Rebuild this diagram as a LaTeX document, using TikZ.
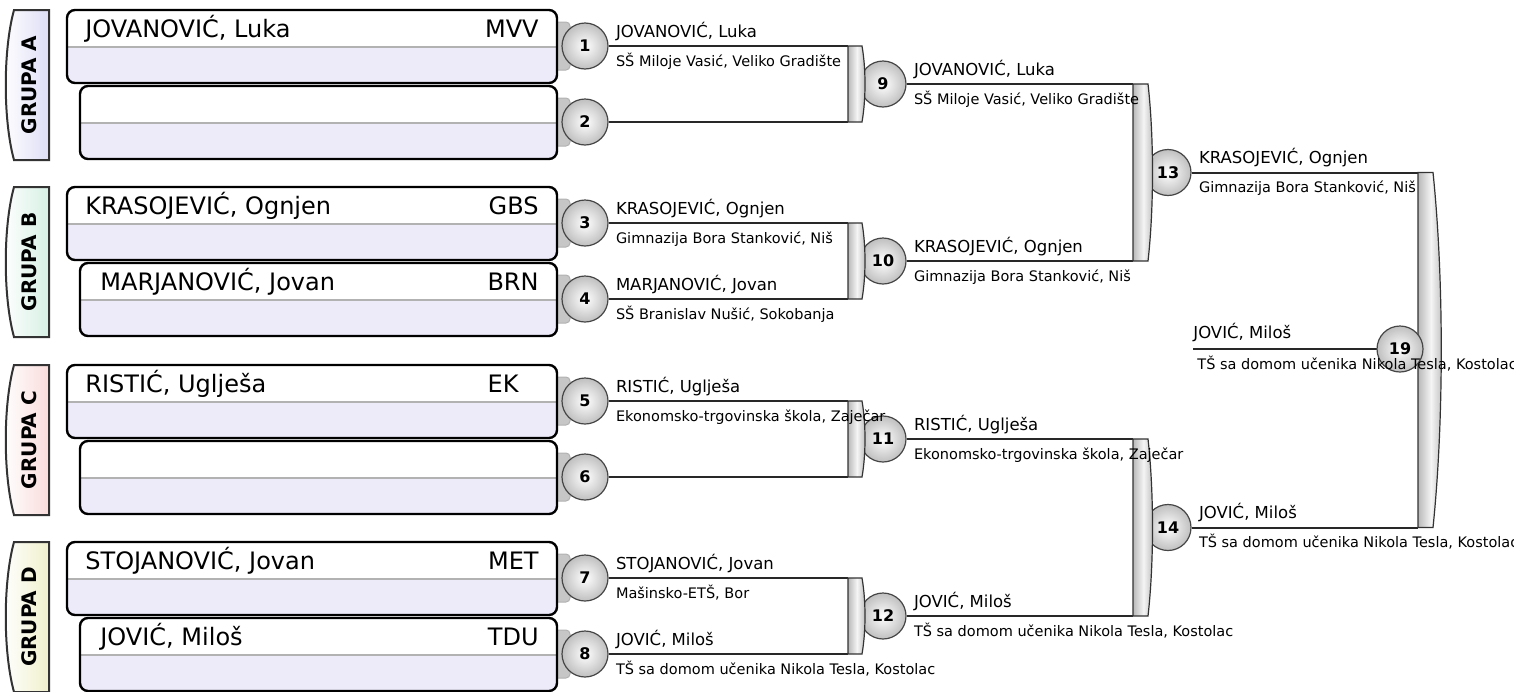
\documentclass[tikz,border=0pt]{standalone}
\usepackage{fontspec}
\setmainfont{DejaVu Sans}
\usetikzlibrary{positioning}
\definecolor{rowlow}{RGB}{237,235,250}
\definecolor{tabA}{RGB}{222,222,246}
\definecolor{tabB}{RGB}{214,240,228}
\definecolor{tabC}{RGB}{250,220,220}
\definecolor{tabD}{RGB}{240,240,204}
\definecolor{wirec}{RGB}{40,40,40}
\begin{document}
\begin{tikzpicture}[x=0.5pt,y=-0.5pt,
  match/.style={circle,draw=gray!55!black,line width=0.6pt,inner color=white,outer color=gray!50,minimum size=23pt,inner sep=0pt,font=\fontsize{8}{8}\selectfont\bfseries},
  pname/.style={font=\fontsize{12}{14}\selectfont,inner sep=0pt},
  wname/.style={font=\fontsize{8.25}{10}\selectfont,inner sep=0pt,anchor=base west,xshift=3.5pt,yshift=4.5pt},
  wschool/.style={font=\fontsize{7.25}{9}\selectfont,inner sep=0pt,anchor=base west,xshift=3.5pt,yshift=-10pt},
  wire/.style={draw=wirec,line width=1pt},
  bar/.style={draw=gray!40!black,line width=0.6pt,left color=gray!55,right color=gray!55,middle color=gray!8},
  stub/.style={draw=gray!60,line width=0.5pt,fill=gray!45},
  grouptab/.style={draw=black!80,line width=1pt},
  ]
\useasboundingbox (0,0) rectangle (1514,691);
\clip (0,0) rectangle (1514,691);

% group tabs
\foreach \t/\c/\g in {10/tabA/A,187/tabB/B,365/tabC/C,542/tabD/D}{
  \draw[grouptab,left color=white,right color=\c] (49,\t) -- (14,\t) .. controls (3,{\t+40}) and (3,{\t+110}) .. (14,{\t+150}) -- (49,{\t+150}) -- cycle;
  \node[rotate=90,font=\fontsize{10}{10}\selectfont\bfseries] (g\g) at (29,{\t+75}) {GRUPA \g};
}

% stubs between boxes and first round
\foreach \y in {46,122,223,299,401,477,578,654}
  \draw[stub,rounded corners=2pt] (553,{\y-24}) rectangle (570,{\y+24});

% player boxes
\foreach \xa/\ya in {67/10,80/86,67/187,80/263,67/365,80/441,67/542,80/618}{
  \fill[rowlow,rounded corners=4pt] (\xa,\ya) rectangle (557,{\ya+73});
  \fill[white,rounded corners=4pt] (\xa,\ya) rectangle (557,{\ya+37});
  \fill[white] ({\xa+1},{\ya+20}) rectangle (556,{\ya+37});
  \draw[gray!60,line width=0.6pt] (\xa,{\ya+37}) -- (557,{\ya+37});
  \draw[line width=1.2pt,rounded corners=4pt] (\xa,\ya) rectangle (557,{\ya+73});
}

\node[pname,anchor=west] (s1) at (85,29) {JOVANOVIĆ, Luka};
\node[pname,anchor=east] (c1) at (539,29) {MVV};
\node[pname,anchor=west] (s3) at (85,206) {KRASOJEVIĆ, Ognjen};
\node[pname,anchor=east] (c3) at (539,206) {GBS};
\node[pname,anchor=west] (s4) at (100,282) {MARJANOVIĆ, Jovan};
\node[pname,anchor=east] (c4) at (539,282) {BRN};
\node[pname,anchor=west] (s5) at (85,384) {RISTIĆ, Uglješa};
\node[pname,anchor=east] (c5) at (519,384) {EK};
\node[pname,anchor=west] (s7) at (85,561) {STOJANOVIĆ, Jovan};
\node[pname,anchor=east] (c7) at (539,561) {MET};
\node[pname,anchor=west] (s8) at (100,637) {JOVIĆ, Miloš};
\node[pname,anchor=east] (c8) at (539,637) {TDU};

% matches
\node[match] (m1) at (585,46) {1};
\node[match] (m2) at (585,122) {2};
\node[match] (m3) at (585,223) {3};
\node[match] (m4) at (585,299) {4};
\node[match] (m5) at (585,401) {5};
\node[match] (m6) at (585,477) {6};
\node[match] (m7) at (585,578) {7};
\node[match] (m8) at (585,654) {8};
\node[match] (m9) at (883,84) {9};
\node[match] (m10) at (883,261) {10};
\node[match] (m11) at (883,439) {11};
\node[match] (m12) at (883,616) {12};
\node[match] (m13) at (1168,172.5) {13};
\node[match] (m14) at (1168,527.5) {14};
\coordinate (f19) at (1193,349);

% bracket joins
\foreach \n/\xl/\yt/\yb/\w/\bu in {1/848/46/122/14/4,2/848/223/299/14/4,3/848/401/477/14/4,4/848/578/654/14/4,5/1133/84/261/15/6,6/1133/439/616/15/6,7/1418/172.5/527.5/15/11}{
  \coordinate (jt\n) at (\xl,\yt);
  \coordinate (jb\n) at (\xl,\yb);
}
\foreach \u/\v in {m1/jt1,m2/jb1,m3/jt2,m4/jb2,m5/jt3,m6/jb3,m7/jt4,m8/jb4,m9/jt5,m10/jb5,m11/jt6,m12/jb6,m13/jt7,m14/jb7}
  \draw[wire] (\u.east) -- (\v);
\foreach \xl/\yt/\yb/\w/\bu in {848/46/122/14/4,848/223/299/14/4,848/401/477/14/4,848/578/654/14/4,1133/84/261/15/6,1133/439/616/15/6,1418/172.5/527.5/15/11}
  \draw[bar] (\xl,\yt) -- ({\xl+\w},\yt) .. controls ({\xl+\w+\bu},{\yt+0.3*(\yb-\yt)}) and ({\xl+\w+\bu},{\yb-0.3*(\yb-\yt)}) .. ({\xl+\w},\yb) -- (\xl,\yb) -- cycle;

\draw[wire] (f19) -- (1390,349);
\node[match] (m19) at (1400,349) {19};

% winners
\node[wname] (w1) at (m1.east) {JOVANOVIĆ, Luka};
\node[wschool] (e1) at (m1.east) {SŠ Miloje Vasić, Veliko Gradište};
\node[wname] (w3) at (m3.east) {KRASOJEVIĆ, Ognjen};
\node[wschool] (e3) at (m3.east) {Gimnazija Bora Stanković, Niš};
\node[wname] (w4) at (m4.east) {MARJANOVIĆ, Jovan};
\node[wschool] (e4) at (m4.east) {SŠ Branislav Nušić, Sokobanja};
\node[wname] (w5) at (m5.east) {RISTIĆ, Uglješa};
\node[wschool] (e5) at (m5.east) {Ekonomsko-trgovinska škola, Zaječar};
\node[wname] (w7) at (m7.east) {STOJANOVIĆ, Jovan};
\node[wschool] (e7) at (m7.east) {Mašinsko-ETŠ, Bor};
\node[wname] (w8) at (m8.east) {JOVIĆ, Miloš};
\node[wschool] (e8) at (m8.east) {TŠ sa domom učenika Nikola Tesla, Kostolac};
\node[wname] (w9) at (m9.east) {JOVANOVIĆ, Luka};
\node[wschool] (e9) at (m9.east) {SŠ Miloje Vasić, Veliko Gradište};
\node[wname] (w10) at (m10.east) {KRASOJEVIĆ, Ognjen};
\node[wschool] (e10) at (m10.east) {Gimnazija Bora Stanković, Niš};
\node[wname] (w11) at (m11.east) {RISTIĆ, Uglješa};
\node[wschool] (e11) at (m11.east) {Ekonomsko-trgovinska škola, Zaječar};
\node[wname] (w12) at (m12.east) {JOVIĆ, Miloš};
\node[wschool] (e12) at (m12.east) {TŠ sa domom učenika Nikola Tesla, Kostolac};
\node[wname] (w13) at (m13.east) {KRASOJEVIĆ, Ognjen};
\node[wschool] (e13) at (m13.east) {Gimnazija Bora Stanković, Niš};
\node[wname] (w14) at (m14.east) {JOVIĆ, Miloš};
\node[wschool] (e14) at (m14.east) {TŠ sa domom učenika Nikola Tesla, Kostolac};
\node[wname,xshift=-3.5pt,yshift=1pt] (w19) at (f19) {JOVIĆ, Miloš};
\node[wschool,xshift=-1.5pt] (e19) at (f19) {TŠ sa domom učenika Nikola Tesla, Kostolac};
\end{tikzpicture}
\end{document}
